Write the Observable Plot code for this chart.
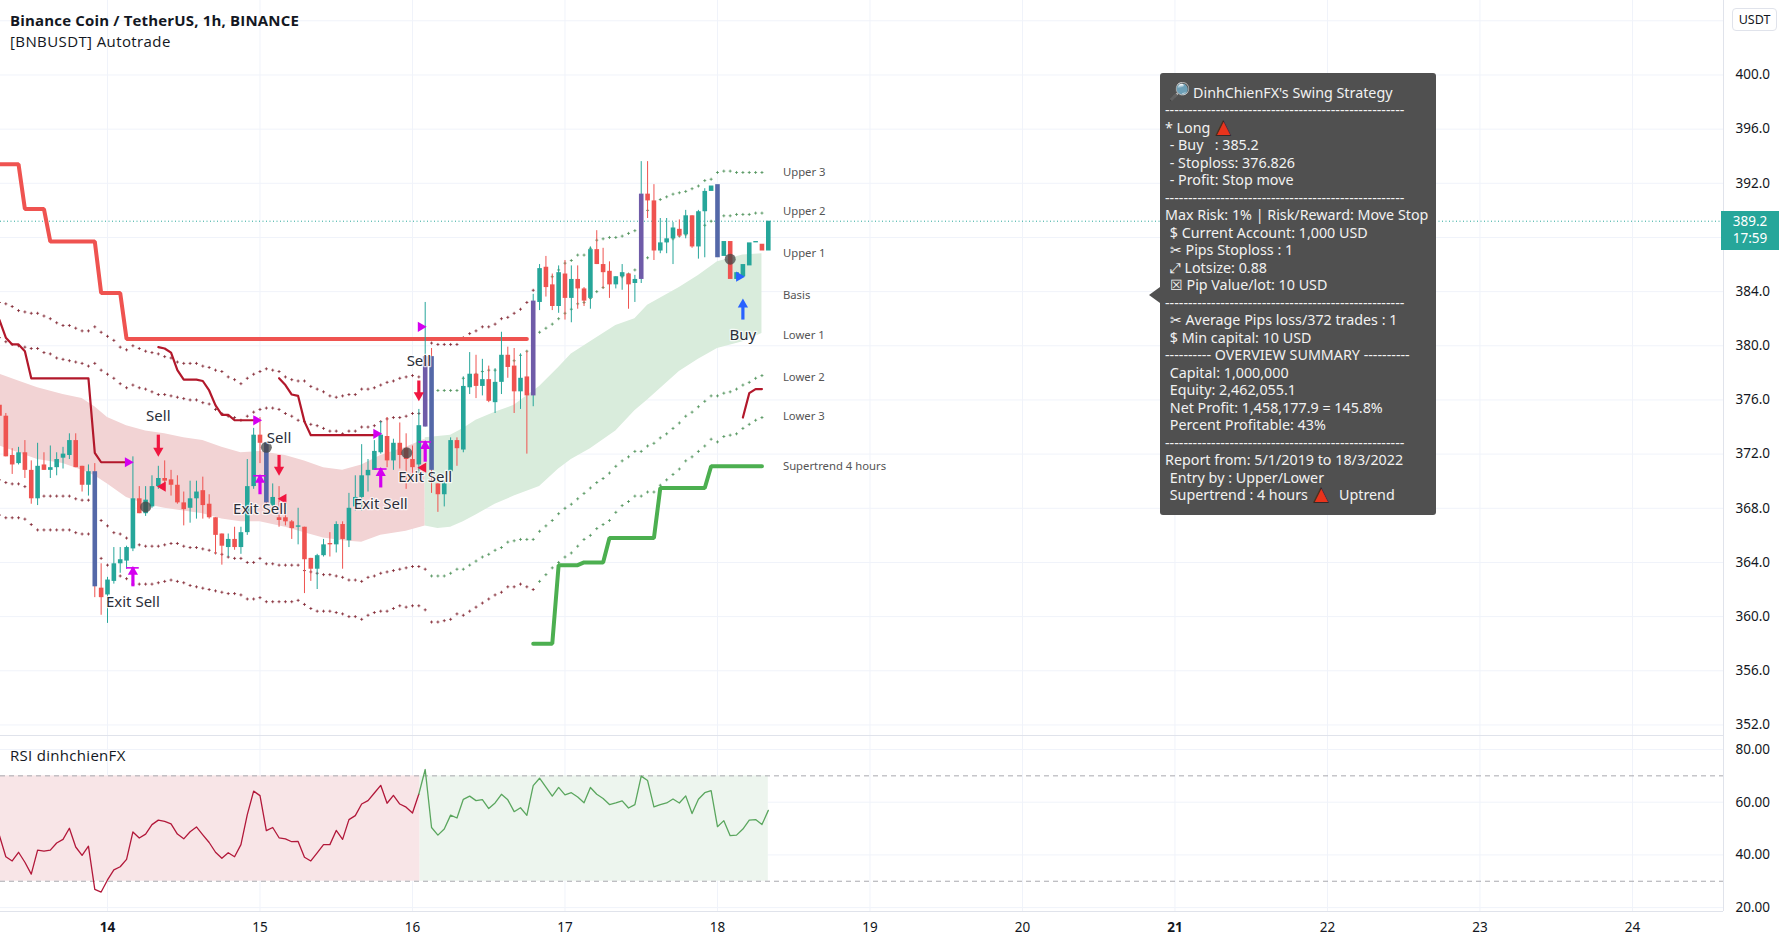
<!DOCTYPE html>
<html><head><meta charset="utf-8">
<script src="https://cdn.jsdelivr.net/npm/d3@7"></script>
<script src="https://cdn.jsdelivr.net/npm/@observablehq/plot@0.6"></script>
<style>
html,body{margin:0;padding:0;background:#fff;width:1787px;height:946px;overflow:hidden;font-family:"Noto Sans",sans-serif;color:#131722}
#wrap{position:relative;width:1787px;height:946px}
#wrap svg{display:block;position:absolute;left:0}
.title{position:absolute;left:10px;top:10px;font:700 15px "Open Sans";letter-spacing:.17px;line-height:20px;color:#131722}
.sub{position:absolute;left:10px;top:31px;font:15px "Open Sans";letter-spacing:.4px;line-height:20px;color:#131722}
.rsi{position:absolute;left:10px;top:746px;font:15px "Open Sans";letter-spacing:.3px;line-height:18px;color:#131722}
.usdt{position:absolute;left:1732px;top:8px;width:43px;height:21px;border:1px solid #e0e3eb;border-radius:4px;font:12.5px/21px "Noto Sans";text-align:center;color:#131722}
.last{position:absolute;left:1721px;top:211px;width:58px;height:39px;background:#26a69a;color:#fff;font:13.5px/17px "Noto Sans";text-align:center;padding-top:2px;box-sizing:border-box;white-space:pre}
.tip{position:absolute;left:1160px;top:73px;width:276px;height:442px;background:#505050;border-radius:3px;color:#f2f2f2;font:14.3px/17.5px "Noto Sans";white-space:pre;box-sizing:border-box;padding:10.5px 0 0 5px}
.tip:before{content:"";position:absolute;left:-11px;top:214px;border:8px solid transparent;border-left:0;border-right:11px solid #505050}
.tri{color:#e8341c;-webkit-text-stroke:.7px #222;font:19px/0 "DejaVu Sans";margin:0 7px 0 2px}
.lens{font-size:18px;line-height:0;margin:0 3px 0 3px}
</style></head><body><div id="wrap"></div>
<script>
const firstHour=-17;
const open=[375.6,374.8,371.9,371.3,372.1,370.8,368.7,371.2,370.8,371.0,
371.7,371.9,373.0,371.1,369.7,370.7,362.1,361.6,362.6,363.9,
364.1,365.0,368.7,367.6,368.1,369.6,370.2,370.1,369.7,368.4,
368.0,368.7,369.3,368.3,367.3,366.1,365.1,365.7,365.1,366.2,
369.6,373.4,372.8,368.2,367.3,367.3,367.0,366.6,366.6,364.3,
363.5,364.5,365.4,365.3,366.8,365.6,368.1,368.8,370.4,370.8,
372.1,373.3,371.5,372.8,372.4,371.6,371.2,374.0,379.2,369.8,
369.0,370.7,373.0,372.3,376.9,377.9,377.0,377.5,375.8,377.3,
379.3,378.5,376.6,377.7,376.3,383.2,385.8,384.5,382.9,385.3,
383.5,384.9,384.2,383.5,387.1,386.0,385.5,384.5,385.1,385.3,
384.6,384.9,391.2,390.7,387.0,387.6,387.9,388.6,388.2,389.6,
387.3,389.9,391.4,391.9,386.6,387.7,384.9,385.1,385.9,387.6,
387.5,387.0];
const close=[374.8,371.8,371.2,372.1,370.8,368.7,371.1,370.8,371.0,371.6,
372.0,373.0,371.0,369.7,370.7,362.2,361.4,362.7,363.9,364.2,
365.1,368.7,367.6,368.6,369.6,370.2,370.0,369.7,368.4,367.9,
368.7,369.2,368.2,367.3,366.0,365.2,365.7,365.1,366.2,369.6,
373.4,372.8,368.4,368.8,367.1,367.0,366.5,366.7,364.2,363.5,
364.5,365.3,365.3,366.8,365.7,368.0,368.8,370.4,370.8,372.2,
373.4,371.5,372.8,371.9,371.6,371.0,374.1,379.2,370.8,369.0,
369.8,373.0,372.4,377.0,377.9,377.0,377.5,375.9,377.3,379.3,
378.4,376.6,377.6,376.3,383.3,385.7,384.3,382.9,385.4,383.5,
384.9,384.2,383.3,387.1,386.0,385.4,384.5,385.1,385.4,384.5,
384.9,391.2,390.7,387.0,387.6,387.9,388.7,388.1,389.6,387.3,
389.9,391.4,391.8,386.5,387.7,384.9,385.4,386.0,387.6,387.7,
387.0,389.2];
const high=[375.8,375.0,372.4,372.5,373.0,371.5,372.8,372.1,372.6,372.1,
372.5,373.5,373.5,371.1,371.2,371.3,363.9,362.9,365.1,365.1,
365.2,371.8,369.6,369.6,370.4,371.1,371.5,370.8,370.4,369.2,
370.0,370.0,370.3,369.0,367.3,366.1,366.1,366.6,366.6,371.6,
373.9,374.7,372.8,369.8,369.6,368.6,367.1,368.0,366.6,364.3,
364.6,365.7,366.2,367.0,367.0,369.1,370.4,372.7,371.6,373.0,
374.4,374.7,373.1,374.3,373.5,372.6,375.3,383.2,379.8,369.8,
370.0,373.2,373.2,377.7,379.5,379.3,379.0,378.5,378.3,381.0,
379.9,379.8,379.4,379.6,383.8,386.0,386.6,385.3,385.9,386.3,
385.9,385.9,384.3,387.3,388.5,387.2,386.2,385.1,386.0,385.3,
385.2,393.6,393.6,391.9,389.4,389.4,389.1,389.3,390.0,389.6,
390.0,391.6,392.5,392.5,387.9,387.8,385.9,386.3,388.0,388.7,
388.0,389.7];
const low=[374.8,371.8,370.5,371.2,370.2,368.3,368.2,370.8,370.2,370.4,
370.9,371.6,371.0,369.2,368.9,361.4,360.1,359.5,362.4,363.2,
363.5,364.8,367.6,367.4,368.0,369.4,369.4,368.9,368.3,366.7,
366.9,367.2,367.2,367.2,364.6,363.8,364.4,364.9,364.6,366.0,
369.4,371.3,368.3,368.1,366.6,366.7,365.7,365.3,361.7,362.6,
362.0,364.4,364.4,364.7,363.5,365.1,367.8,367.8,369.2,370.8,
372.0,371.0,370.8,370.9,369.4,370.5,370.5,374.0,369.1,367.7,
368.1,370.3,371.1,372.1,376.4,376.1,376.3,375.8,375.0,376.4,
377.6,375.0,375.3,372.0,375.5,382.6,383.6,382.6,382.4,381.9,
381.7,382.7,382.9,382.7,386.0,384.2,383.5,384.2,384.1,382.7,
383.2,384.6,389.4,386.3,386.8,386.8,386.0,388.0,387.9,387.2,
386.4,386.5];
const signalUp=[50,67,84], signalDown=[-2,25,51,96];

const upper3=[383.2,383.1,382.9,382.6,382.5,382.4,382.4,382.2,382.0,381.7,
381.5,381.5,381.3,381.1,381.1,381.4,381.0,380.7,380.4,379.9,
379.7,380.0,379.8,379.6,379.5,379.4,379.2,379.1,378.8,378.7,
378.7,378.7,378.5,378.4,378.2,378.1,377.7,377.5,377.2,377.6,
377.9,378.1,378.3,378.2,378.1,377.7,377.5,377.4,377.4,377.0,
376.8,376.6,376.3,376.2,376.3,376.4,376.4,376.8,376.8,376.9,
377.1,377.3,377.4,377.6,377.7,377.8,377.7,378.7,380.2,380.1,
380.1,380.1,380.1,380.6,380.9,381.1,381.4,381.4,381.6,382.0,
382.1,382.4,382.7,383.2,384.1,384.6,384.9,385.1,385.6,386.1,
386.3,386.7,386.7,387.2,387.8,387.9,388.0,388.0,388.1,388.3,
388.5,389.4,390.0,390.5,390.8,391.0,391.2,391.3,391.4,391.6,
391.8,392.2,392.3,392.8,392.9,392.9,392.8,392.8,392.8,392.8,392.8];
const upper2=[380.6,380.3,380.1,380.0,379.9,379.8,379.8,379.5,379.4,379.1,
379.0,378.9,378.8,378.7,378.5,378.7,378.2,377.9,377.6,377.2,
376.9,377.1,376.9,376.8,376.6,376.4,376.4,376.3,376.2,376.1,
376.0,376.0,375.8,375.7,375.3,375.0,374.8,374.7,374.5,374.8,
375.1,375.3,375.4,375.4,375.3,375.0,374.8,374.5,374.4,374.2,
374.1,373.9,373.7,373.7,373.5,373.7,373.7,374.0,374.0,374.1,
374.4,374.6,374.7,374.7,374.8,375.0,375.0,375.2,376.6,376.7,
376.7,376.7,376.7,377.6,377.7,377.9,378.1,378.2,378.2,378.5,
378.7,378.9,379.3,379.6,380.5,381.0,381.3,381.6,382.0,382.4,
382.7,383.1,383.2,383.5,384.0,384.3,384.6,384.9,385.1,385.3,
385.6,386.1,386.5,387.2,387.4,387.7,387.9,388.1,388.2,388.5,
388.8,388.9,389.2,389.5,389.6,389.6,389.7,389.7,389.7,389.8,389.8];
const lower2=[370.1,369.9,369.8,369.8,369.6,369.2,369.0,368.9,368.9,368.9,
368.9,368.9,368.7,368.6,368.6,368.3,367.1,366.7,366.2,366.1,
365.8,365.2,365.3,365.2,365.2,365.2,365.3,365.4,365.4,365.2,
365.1,365.1,365.0,364.9,364.7,364.6,364.4,364.3,364.3,364.0,
364.0,364.3,363.9,363.9,363.8,363.8,363.8,363.8,363.4,363.3,
363.2,363.1,363.1,363.0,362.9,362.7,362.7,362.6,362.9,363.0,
363.2,363.3,363.4,363.5,363.6,363.7,363.7,363.5,363.0,363.0,
363.0,363.2,363.5,363.5,363.8,364.1,364.4,364.6,364.9,365.1,
365.5,365.6,365.7,365.7,365.7,366.3,366.7,367.1,367.6,368.0,
368.3,368.7,369.1,369.5,369.9,370.2,370.6,371.1,371.5,371.8,
372.2,372.2,372.6,372.8,373.2,373.5,373.9,374.3,374.8,375.1,
375.5,375.9,376.3,376.3,376.5,376.6,376.8,377.1,377.3,377.6,377.8];
const lower3=[367.5,367.3,367.3,367.3,367.2,366.8,366.4,366.4,366.4,366.4,
366.4,366.4,366.2,366.1,366.1,365.4,364.3,363.8,363.4,363.0,
362.8,362.4,362.4,362.4,362.4,362.5,362.6,362.7,362.6,362.5,
362.3,362.2,362.1,362.0,361.9,361.8,361.7,361.7,361.6,361.3,
361.3,361.4,361.1,361.1,361.1,361.1,361.1,361.2,360.9,360.6,
360.4,360.4,360.4,360.3,360.2,360.0,360.0,359.8,360.1,360.3,
360.4,360.4,360.6,360.8,360.7,360.8,360.8,360.5,359.6,359.6,
359.7,359.8,360.2,360.1,360.4,360.7,361.0,361.3,361.6,361.8,
362.2,362.2,362.4,362.2,362.0,362.6,363.1,363.6,364.0,364.4,
364.7,365.2,365.7,366.0,366.5,366.8,367.1,367.7,368.2,368.5,
368.9,368.9,369.2,369.2,369.7,370.1,370.5,370.9,371.5,371.8,
372.2,372.6,373.1,372.9,373.3,373.4,373.5,373.9,374.2,374.5,374.7];
const outerFlip=67, innerFlip=50;

const pinkHours=[-17,-14,-11,-7,-4,-2,0,3,6,9,12,15,18,21,24,28,31,34,37,40,43,47,50];
const pinkTop=[377.9,377.4,376.9,376.4,376.1,375.5,374.7,374.1,373.7,373.5,373.2,373.0,372.5,372.1,372.2,371.9,371.5,371.0,370.8,371.2,371.9,372.5,373.1];
const pinkBottom=[372.6,372.1,371.6,371.3,370.8,370.4,369.8,368.8,368.3,368.0,367.8,367.6,367.2,367.0,367.0,366.6,366.2,365.8,365.6,365.5,366.0,366.3,366.7];
const greenHours=[50,52,54,56,58,61,64,68,71,73,76,80,83,85,90,93,96,100,103];
const greenTop=[373.2,373.3,373.4,373.9,374.5,375.1,375.6,377.0,378.4,379.4,380.3,381.5,382.0,383.0,384.3,385.2,386.2,386.7,386.8];
const greenBottom=[366.7,366.5,366.6,367.0,367.5,368.3,368.9,369.6,370.9,371.6,372.4,373.7,375.2,376.0,378.1,379.0,379.8,380.3,380.9];

const stRedHours=[-17,-14,-13,-10,-9,-2,-1,2,3,66];
const stRedPrices=[393.4,393.4,390.1,390.1,387.7,387.7,383.9,383.9,380.5,380.5];
const stGreenHours=[67,70,71,74,75,78,79,86,87,94,95,103];
const stGreenPrices=[358.0,358.0,363.8,363.8,364.0,364.0,365.8,365.8,369.5,369.5,371.1,371.1];

const trailHours=[-17,-16,-15,-14,-13,-12,-3,-2,-1,3, 8,9,10,11,12,14,15,16,17,18,19,20,23, 27,28,29,30,31,32,42, 100,101,102,103];
const trailPrices=[381.9,380.6,380.1,380.1,379.6,377.6,377.6,372.1,371.4,371.4, 379.9,379.8,379.5,378.2,377.5,377.5,377.4,376.7,375.6,374.9,374.9,374.5,374.5, 377.6,377.1,376.4,376.3,374.4,373.4,373.4, 374.7,376.5,376.8,376.8];
const trailSegments=[0,0,0,0,0,0,0,0,0,0, 1,1,1,1,1,1,1,1,1,1,1,1,1, 2,2,2,2,2,2,2, 3,3,3,3];

const entryRightHours=[3.2,23.4,42.3,49.3], entryRightPrices=[371.4,374.5,373.5,381.4];
const buyRightHours=[99.4], buyRightPrices=[385.1];
const exitLeftHours=[8.7,27.7,49.7], exitLeftPrices=[369.6,368.7,371.0];
const circleHours=[6,25,47.1,98], circlePrices=[368.1,372.5,372.1,386.4];
const sellHours=[8,27,49], sellTops=[373.4,371.9,377.4], sellBottoms=[372.1,370.7,376.2], sellLabels=[374.8,373.2,378.9];
const exitHours=[4,24,43,50], exitTops=[363.6,370.4,370.9,372.9], exitBottoms=[362.2,369.0,369.5,371.4], exitLabels=[361.1,367.9,368.3,370.3];
const buyHours=[100], buyTops=[383.2], buyBottoms=[381.9], buyLabels=[380.8];

const bandLabels=["Upper 3","Upper 2","Upper 1","Basis","Lower 1","Lower 2","Lower 3","Supertrend 4 hours"];
const bandLabelPrices=[392.8,389.9,386.8,383.7,380.8,377.7,374.8,371.1];
const bandLabelHour=106.3;

const rsi=[47.3,39.3,37.7,41.0,37.2,32.7,41.8,41.4,41.8,44.5,45.9,50.1,43.0,39.8,43.3,26.9,25.9,30.5,34.3,35.5,38.3,48.7,46.4,47.9,51.5,53.2,52.7,51.8,47.9,46.1,48.8,50.6,47.6,44.7,41.0,38.7,40.8,39.3,43.9,55.3,64.2,62.5,49.2,50.4,46.5,46.1,45.0,45.1,39.1,37.7,40.8,43.9,43.9,49.3,45.9,53.4,54.9,59.3,60.6,63.5,66.4,59.6,62.6,59.3,
58.1,55.9,63.1,72.4,50.4,47.5,49.8,55.1,54.0,61.1,62.3,60.6,61.0,57.6,59.7,63.0,60.9,56.4,57.9,55.0,66.3,69.1,65.7,62.3,65.6,62.8,63.6,62.0,59.8,65.6,63.0,61.4,59.1,59.7,60.5,57.8,59.1,69.9,68.2,58.2,59.1,59.7,61.2,59.7,62.4,55.7,61.1,63.6,64.4,50.7,53.0,47.3,47.5,49.8,53.2,53.4,51.5,56.9];
const rsiFlip=49, rsiFillFlip=49.2;
const dayLabels=[14,15,16,17,18,19,20,21,22,23,24];
const boldDays=[14,21];
const priceTicks=[352,356,360,364,368,372,376,380,384,388,392,396,400,404];
const priceLabels=[352,356,360,364,368,372,376,380,384,392,396,400];
const rsiTicks=[20,40,60,80];
const lastPrice=389.2;

const RULE="----------------------------------------------------";
const tipLines=`<span class="lens">🔎</span>DinhChienFX's Swing Strategy
${RULE}
* Long <span class="tri">▲</span>
\u2004- Buy   : 385.2
\u2004- Stoploss: 376.826
\u2004- Profit: Stop move
${RULE}
Max Risk: 1% | Risk/Reward: Move Stop
\u2004$ Current Account: 1,000 USD
\u2004✂ Pips Stoploss : 1
\u2004⤢ Lotsize: 0.88
\u2004☒ Pip Value/lot: 10 USD
${RULE}
\u2004✂ Average Pips loss/372 trades : 1
\u2004$ Min capital: 10 USD
---------- OVERVIEW SUMMARY ----------
\u2004Capital: 1,000,000
\u2004Equity: 2,462,055.1
\u2004Net Profit: 1,458,177.9 = 145.8%
\u2004Percent Profitable: 43%
${RULE}
Report from: 5/1/2019 to 18/3/2022
\u2004Entry by : Upper/Lower
\u2004Supertrend : 4 hours <span class="tri">▲</span> Uptrend`;

const UP="#26a69a", DOWN="#ef5350", GRID="#f0f3fa", LINE="#e0e3eb", TXT="#131722";
const BARUP="#6f5ba8", BARDOWN="#5468a8";
const DARKRED="#7d1f2c", DOTGREEN="#4a8f55", TRAIL="#b2182b", MAG="#d400f0", RED="#f01640", BLUE="#2962ff";
const FONT="Noto Sans";

const xDomain=[-16.84,254.33];
const hourOf=i=>firstHour+i;
const candles=open.map((o,i)=>({h:hourOf(i),o,c:close[i],hi:high[i],lo:low[i]}));
const bodyColor=d=>signalUp.includes(d.h)?BARUP:signalDown.includes(d.h)?BARDOWN:(d.c>=d.o?UP:DOWN);
const dots=(arr,flip)=>arr.map((p,i)=>({h:hourOf(i),p,col:hourOf(i)<=flip?DARKRED:DOTGREEN}));
const zip=(a,b)=>a.map((x,i)=>({h:x,p:b[i]}));
const arrows=(hs,tops,bots)=>hs.map((h,i)=>({h,top:tops[i],bot:bots[i]}));
const labels=(hs,ps,t)=>hs.map((h,i)=>({h,p:ps[i],t}));
const halo={fontFamily:FONT,fontSize:15,fill:"#2a2e39",stroke:"#fff",strokeOpacity:.75,strokeWidth:2.5,text:"t",x:"h",y:"p"};
const bandDot={x:"h",y:"p",symbol:"plus",r:1.05,stroke:"col",strokeWidth:.8};

const wrap=document.getElementById("wrap");
const main=Plot.plot({
  width:1787,height:735,margin:0,marginRight:64,
  x:{domain:xDomain,range:[0,1723],axis:null},
  y:{domain:[351.22,405.5],range:[735,0],axis:null},
  style:{background:"transparent",fontFamily:FONT},
  marks:[
    Plot.ruleX(dayLabels.map(d=>(d-14)*24),{stroke:GRID}),
    Plot.ruleY(priceTicks,{stroke:GRID}),
    Plot.axisY(priceLabels,{anchor:"right",tickSize:0,tickPadding:12,fontSize:13.5,tickFormat:d=>d.toFixed(1),label:null,fill:TXT}),
    Plot.areaY(pinkHours.map((h,i)=>({h,a:pinkTop[i],b:pinkBottom[i]})),{x:"h",y1:"a",y2:"b",fill:"#f2d3d4"}),
    Plot.areaY(greenHours.map((h,i)=>({h,a:greenTop[i],b:greenBottom[i]})),{x:"h",y1:"a",y2:"b",fill:"#d9ecdc"}),
    Plot.ruleY([lastPrice],{stroke:UP,strokeDasharray:"1,2.5",strokeWidth:1}),
    Plot.dot(dots(upper3,outerFlip),bandDot),
    Plot.dot(dots(upper2,innerFlip),bandDot),
    Plot.dot(dots(lower2,innerFlip),bandDot),
    Plot.dot(dots(lower3,outerFlip),bandDot),
    Plot.line(zip(stRedHours,stRedPrices),{x:"h",y:"p",stroke:"#ef5350",strokeWidth:4,curve:"linear",strokeLinejoin:"miter"}),
    Plot.line(zip(stGreenHours,stGreenPrices),{x:"h",y:"p",stroke:"#4caf50",strokeWidth:4,curve:"linear",strokeLinejoin:"miter"}),
    Plot.line(trailHours.map((h,i)=>({h,p:trailPrices[i],s:trailSegments[i]})),{x:"h",y:"p",z:"s",stroke:TRAIL,strokeWidth:2.2}),
    Plot.ruleX(candles,{x:"h",y1:"lo",y2:"hi",stroke:d=>d.c>=d.o?UP:DOWN,strokeWidth:1}),
    Plot.ruleX(candles,{x:"h",y1:"o",y2:"c",stroke:bodyColor,strokeWidth:4.6}),
    Plot.dot(zip(circleHours,circlePrices),{x:"h",y:"p",r:5.5,fill:"#444",fillOpacity:.75}),
    Plot.dot(zip(entryRightHours,entryRightPrices),{x:"h",y:"p",symbol:"triangle",rotate:90,r:3.8,fill:MAG}),
    Plot.dot(zip(buyRightHours,buyRightPrices),{x:"h",y:"p",symbol:"triangle",rotate:90,r:3.8,fill:BLUE}),
    Plot.dot(zip(exitLeftHours,exitLeftPrices),{x:"h",y:"p",symbol:"triangle",rotate:-90,r:3.8,fill:RED}),
    Plot.ruleX(arrows(sellHours,sellTops,sellBottoms),{x:"h",y1:"top",y2:"bot",stroke:RED,strokeWidth:3.2}),
    Plot.dot(arrows(sellHours,sellTops,sellBottoms),{x:"h",y:"bot",symbol:"triangle",rotate:180,r:3.8,fill:RED,dy:-2}),
    Plot.ruleX(arrows(exitHours,exitTops,exitBottoms),{x:"h",y1:"top",y2:"bot",stroke:MAG,strokeWidth:3.2}),
    Plot.dot(arrows(exitHours,exitTops,exitBottoms),{x:"h",y:"top",symbol:"triangle",r:3.8,fill:MAG,dy:4}),
    Plot.ruleY(arrows(exitHours,exitTops,exitBottoms),{x1:d=>d.h-1,x2:d=>d.h+1,y:"top",stroke:MAG,strokeWidth:1.6}),
    Plot.ruleX(arrows(buyHours,buyTops,buyBottoms),{x:"h",y1:"top",y2:"bot",stroke:BLUE,strokeWidth:3.2}),
    Plot.dot(arrows(buyHours,buyTops,buyBottoms),{x:"h",y:"top",symbol:"triangle",r:3.8,fill:BLUE,dy:2}),
    Plot.text(labels(sellHours,sellLabels,"Sell"),halo),
    Plot.text(labels(exitHours,exitLabels,"Exit Sell"),halo),
    Plot.text(labels(buyHours,buyLabels,"Buy"),halo),
    Plot.text(bandLabels.map((t,i)=>({t,p:bandLabelPrices[i]})),{x:()=>bandLabelHour,y:"p",text:"t",textAnchor:"start",fontFamily:FONT,fontSize:11.3,fill:"#555"}),
    Plot.ruleX([xDomain[1]],{stroke:LINE,strokeWidth:1})
  ]
});
main.style.top="0";
wrap.append(main);

const rsiRows=rsi.map((v,i)=>({h:hourOf(i),v}));
const pane=Plot.plot({
  width:1787,height:211,margin:0,marginRight:64,marginBottom:35,
  x:{domain:xDomain,range:[0,1723],axis:null},
  y:{domain:[18.52,85.31],range:[176,0],axis:null},
  style:{background:"transparent",fontFamily:FONT},
  marks:[
    Plot.ruleX(dayLabels.map(d=>(d-14)*24),{stroke:GRID}),
    Plot.ruleY(rsiTicks,{stroke:GRID}),
    Plot.rect([{a:firstHour,b:rsiFillFlip}],{x1:"a",x2:"b",y1:()=>30,y2:()=>70,fill:"#f8e5e7"}),
    Plot.rect([{a:rsiFillFlip,b:104}],{x1:"a",x2:"b",y1:()=>30,y2:()=>70,fill:"#edf5ee"}),
    Plot.ruleY([30,70],{stroke:"#a8a8ae",strokeDasharray:"5,4",strokeWidth:1}),
    Plot.line(rsiRows.filter(d=>d.h<=rsiFlip),{x:"h",y:"v",stroke:"#b2183a",strokeWidth:1.3}),
    Plot.line(rsiRows.filter(d=>d.h>=rsiFlip),{x:"h",y:"v",stroke:"#5aa65e",strokeWidth:1.3}),
    Plot.axisY(rsiTicks,{anchor:"right",tickSize:0,tickPadding:12,fontSize:13.5,tickFormat:d=>d.toFixed(2),label:null,fill:TXT}),
    Plot.axisX(dayLabels.filter(d=>!boldDays.includes(d)).map(d=>(d-14)*24),{anchor:"bottom",tickSize:0,tickPadding:11,fontSize:13.5,tickFormat:h=>14+h/24,label:null,fill:TXT}),
    Plot.axisX(boldDays.map(d=>(d-14)*24),{anchor:"bottom",tickSize:0,tickPadding:11,fontSize:13.5,fontWeight:700,tickFormat:h=>14+h/24,label:null,fill:TXT}),
    Plot.ruleY([18.52],{stroke:LINE}),
    Plot.ruleY([85.31],{stroke:LINE}),
    Plot.ruleX([xDomain[1]],{y1:18.52,y2:85.31,stroke:LINE})
  ]
});
pane.style.top="735px";
wrap.append(pane);

function add(cls,txt,html){const d=document.createElement("div");d.className=cls;if(html)d.innerHTML=txt;else d.textContent=txt;wrap.append(d);}
add("title","Binance Coin / TetherUS, 1h, BINANCE");
add("sub","[BNBUSDT] Autotrade");
add("rsi","RSI dinhchienFX");
add("usdt","USDT");
add("last","389.2\n17:59");
add("tip",tipLines,true);
</script></body></html>
